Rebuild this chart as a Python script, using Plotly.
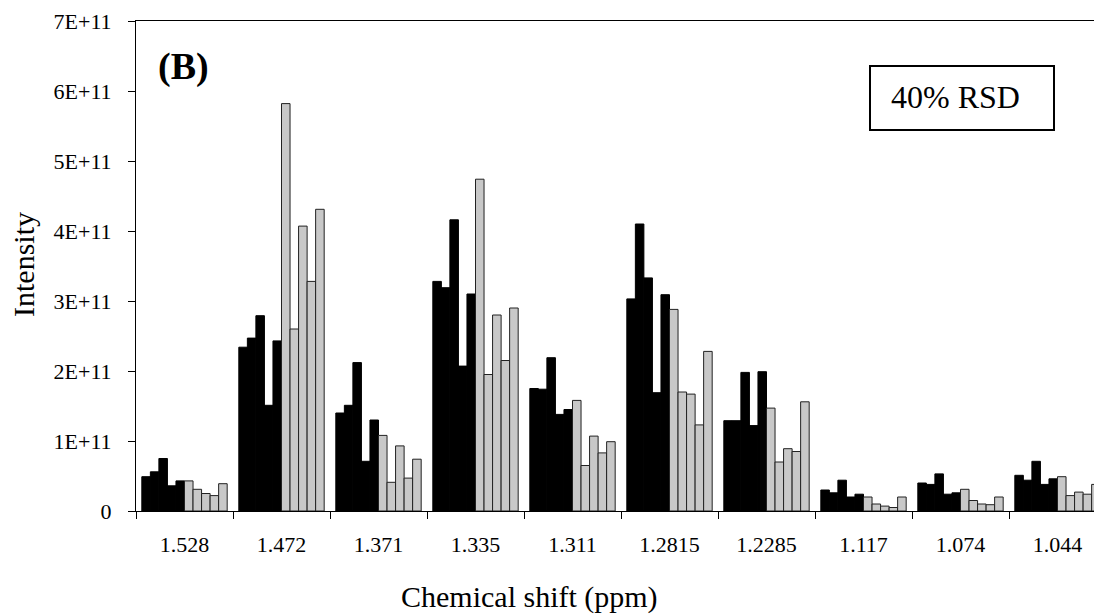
import plotly.graph_objects as go

categories = ["1.528", "1.472", "1.371", "1.335", "1.311", "1.2815", "1.2285", "1.117", "1.074", "1.044"]

# values in units of 1E+11, one list per bar position within each group
black_1 = [0.49, 2.34, 1.40, 3.28, 1.75, 3.03, 1.29, 0.30, 0.40, 0.51]
black_2 = [0.56, 2.47, 1.51, 3.19, 1.74, 4.10, 1.29, 0.26, 0.38, 0.44]
black_3 = [0.75, 2.79, 2.12, 4.16, 2.19, 3.33, 1.98, 0.44, 0.53, 0.71]
black_4 = [0.36, 1.51, 0.71, 2.07, 1.38, 1.69, 1.22, 0.20, 0.24, 0.38]
black_5 = [0.43, 2.43, 1.30, 3.10, 1.45, 3.09, 1.99, 0.24, 0.26, 0.46]
grey_1 = [0.43, 5.82, 1.08, 4.74, 1.58, 2.88, 1.47, 0.20, 0.31, 0.49]
grey_2 = [0.31, 2.60, 0.41, 1.95, 0.65, 1.70, 0.70, 0.10, 0.15, 0.22]
grey_3 = [0.25, 4.07, 0.93, 2.80, 1.07, 1.67, 0.89, 0.07, 0.10, 0.27]
grey_4 = [0.22, 3.28, 0.47, 2.15, 0.83, 1.23, 0.85, 0.05, 0.09, 0.24]
grey_5 = [0.39, 4.31, 0.74, 2.90, 0.99, 2.28, 1.56, 0.20, 0.20, 0.38]

y_tickvals = [0, 1e11, 2e11, 3e11, 4e11, 5e11, 6e11, 7e11]
y_ticktext = ["0", "1E+11", "2E+11", "3E+11", "4E+11", "5E+11", "6E+11", "7E+11"]

FONT = "Liberation Serif, Times New Roman, serif"

fig = go.Figure()
black_series = [black_1, black_2, black_3, black_4, black_5]
grey_series = [grey_1, grey_2, grey_3, grey_4, grey_5]
for i, s in enumerate(black_series):
    fig.add_trace(go.Bar(x=categories, y=[v * 1e11 for v in s], name=f"Black {i+1}",
                         marker=dict(color="#000000", line=dict(color="#000000", width=1))))
for i, s in enumerate(grey_series):
    fig.add_trace(go.Bar(x=categories, y=[v * 1e11 for v in s], name=f"Grey {i+1}",
                         marker=dict(color="#c8c8c8", line=dict(color="#222222", width=1))))

L, T, B = 136, 21, 105
W, H = 1094, 616
pw = W - L
ph = H - T - B

fig.update_layout(
    width=W, height=H,
    margin=dict(l=L, r=0, t=T, b=B, pad=0),
    paper_bgcolor="white", plot_bgcolor="white",
    barmode="group", bargap=0.12, bargroupgap=0,
    showlegend=False,
    font=dict(family=FONT, color="black"),
)
fig.update_xaxes(
    type="category", range=[-0.5, -0.5 + pw / 97.0],
    showline=True, linecolor="black", linewidth=1, mirror=True,
    ticks="outside", tickson="boundaries", ticklen=7, tickcolor="black", tickwidth=1,
    tickfont=dict(family=FONT, size=22, color="black"),
    ticklabelstandoff=14,
    showgrid=False, zeroline=False,
)
fig.update_yaxes(
    range=[0, 7e11],
    tickvals=y_tickvals, ticktext=y_ticktext,
    showline=True, linecolor="black", linewidth=1, mirror=False,
    ticks="outside", ticklen=7, tickcolor="black", tickwidth=1,
    tickfont=dict(family=FONT, size=22, color="black"),
    ticklabelstandoff=12,
    showgrid=False, zeroline=False,
)

def px(x):
    return (x - L) / pw

def py(y):
    return (H - B - y) / ph

fig.add_annotation(x=px(529), y=py(597), xref="paper", yref="paper",
                   text="Chemical shift (ppm)", showarrow=False,
                   font=dict(family=FONT, size=30, color="black"),
                   xanchor="center", yanchor="middle")
fig.add_annotation(x=px(23), y=py(265), xref="paper", yref="paper",
                   text="Intensity", showarrow=False, textangle=-90,
                   font=dict(family=FONT, size=30, color="black"),
                   xanchor="center", yanchor="middle")
fig.add_annotation(x=px(183), y=py(66), xref="paper", yref="paper",
                   text="<b>(B)</b>", showarrow=False,
                   font=dict(family=FONT, size=38, color="black"),
                   xanchor="center", yanchor="middle")
fig.add_shape(type="rect", xref="paper", yref="paper",
              x0=px(870), x1=px(1054), y0=py(130), y1=py(66),
              line=dict(color="black", width=2), fillcolor="white", layer="above")
fig.add_annotation(x=px(889), y=py(97), xref="paper", yref="paper",
                   text="40% RSD", showarrow=False,
                   font=dict(family=FONT, size=32, color="black"),
                   xanchor="left", yanchor="middle")

fig.write_html("out.html")
